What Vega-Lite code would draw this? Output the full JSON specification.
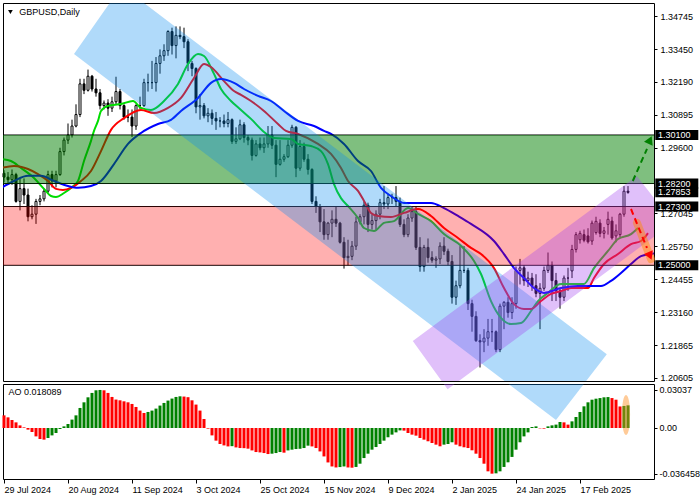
{
  "$schema": "https://vega.github.io/schema/vega-lite/v6.json",
  "background": "white",
  "padding": {"left": 2, "top": 2, "right": 0, "bottom": 0},
  "spacing": 3,
  "bounds": "flush",
  "config": {
    "view": {"stroke": "black", "strokeWidth": 1},
    "scale": {"continuousPadding": 0},
    "axis": {"labelFont": "Liberation Sans", "labelFontSize": 9, "labelColor": "black", "tickColor": "black", "domain": false, "grid": false, "labelOverlap": false},
    "text": {"font": "Liberation Sans"}
  },
  "datasets": {
    "candles": [
      {"i":0,"o":1.2860,"h":1.2872,"l":1.2825,"c":1.2845},
      {"i":1,"o":1.2845,"h":1.2865,"l":1.2820,"c":1.2835},
      {"i":2,"o":1.2835,"h":1.2875,"l":1.2815,"c":1.2855},
      {"i":3,"o":1.2855,"h":1.2862,"l":1.2745,"c":1.2750},
      {"i":4,"o":1.2750,"h":1.2840,"l":1.2715,"c":1.2800},
      {"i":5,"o":1.2800,"h":1.2840,"l":1.2740,"c":1.2775},
      {"i":6,"o":1.2775,"h":1.2800,"l":1.2672,"c":1.2690},
      {"i":7,"o":1.2690,"h":1.2735,"l":1.2680,"c":1.2700},
      {"i":8,"o":1.2700,"h":1.2760,"l":1.2662,"c":1.2750},
      {"i":9,"o":1.2750,"h":1.2775,"l":1.2735,"c":1.2760},
      {"i":10,"o":1.2760,"h":1.2800,"l":1.2750,"c":1.2790},
      {"i":11,"o":1.2790,"h":1.2870,"l":1.2780,"c":1.2855},
      {"i":12,"o":1.2855,"h":1.2870,"l":1.2805,"c":1.2830},
      {"i":13,"o":1.2830,"h":1.2870,"l":1.2805,"c":1.2855},
      {"i":14,"o":1.2855,"h":1.2960,"l":1.2850,"c":1.2945},
      {"i":15,"o":1.2945,"h":1.3000,"l":1.2930,"c":1.2990},
      {"i":16,"o":1.2990,"h":1.3055,"l":1.2975,"c":1.3010},
      {"i":17,"o":1.3010,"h":1.3070,"l":1.3000,"c":1.3045},
      {"i":18,"o":1.3045,"h":1.3130,"l":1.3040,"c":1.3090},
      {"i":19,"o":1.3090,"h":1.3230,"l":1.3080,"c":1.3210},
      {"i":20,"o":1.3210,"h":1.3230,"l":1.3170,"c":1.3185},
      {"i":21,"o":1.3185,"h":1.3266,"l":1.3180,"c":1.3240},
      {"i":22,"o":1.3240,"h":1.3245,"l":1.3180,"c":1.3190},
      {"i":23,"o":1.3190,"h":1.3230,"l":1.3160,"c":1.3175},
      {"i":24,"o":1.3175,"h":1.3190,"l":1.3110,"c":1.3125},
      {"i":25,"o":1.3125,"h":1.3145,"l":1.3110,"c":1.3135},
      {"i":26,"o":1.3135,"h":1.3150,"l":1.3085,"c":1.3115},
      {"i":27,"o":1.3115,"h":1.3160,"l":1.3100,"c":1.3140},
      {"i":28,"o":1.3140,"h":1.3238,"l":1.3130,"c":1.3180},
      {"i":29,"o":1.3180,"h":1.3190,"l":1.3110,"c":1.3125},
      {"i":30,"o":1.3125,"h":1.3130,"l":1.3070,"c":1.3080},
      {"i":31,"o":1.3080,"h":1.3110,"l":1.3060,"c":1.3080},
      {"i":32,"o":1.3080,"h":1.3110,"l":1.3002,"c":1.3045},
      {"i":33,"o":1.3045,"h":1.3130,"l":1.3030,"c":1.3125},
      {"i":34,"o":1.3125,"h":1.3160,"l":1.3110,"c":1.3125},
      {"i":35,"o":1.3125,"h":1.3230,"l":1.3120,"c":1.3215},
      {"i":36,"o":1.3215,"h":1.3250,"l":1.3180,"c":1.3215},
      {"i":37,"o":1.3215,"h":1.3300,"l":1.3190,"c":1.3215},
      {"i":38,"o":1.3215,"h":1.3315,"l":1.3180,"c":1.3290},
      {"i":39,"o":1.3290,"h":1.3345,"l":1.3250,"c":1.3320},
      {"i":40,"o":1.3320,"h":1.3365,"l":1.3300,"c":1.3340},
      {"i":41,"o":1.3340,"h":1.3420,"l":1.3320,"c":1.3415},
      {"i":42,"o":1.3415,"h":1.3430,"l":1.3325,"c":1.3360},
      {"i":43,"o":1.3360,"h":1.3435,"l":1.3310,"c":1.3400},
      {"i":44,"o":1.3400,"h":1.3435,"l":1.3385,"c":1.3395},
      {"i":45,"o":1.3395,"h":1.3430,"l":1.3350,"c":1.3375},
      {"i":46,"o":1.3375,"h":1.3385,"l":1.3260,"c":1.3290},
      {"i":47,"o":1.3290,"h":1.3300,"l":1.3240,"c":1.3270},
      {"i":48,"o":1.3270,"h":1.3275,"l":1.3095,"c":1.3120},
      {"i":49,"o":1.3120,"h":1.3170,"l":1.3070,"c":1.3125},
      {"i":50,"o":1.3125,"h":1.3135,"l":1.3075,"c":1.3085},
      {"i":51,"o":1.3085,"h":1.3115,"l":1.3060,"c":1.3095},
      {"i":52,"o":1.3095,"h":1.3110,"l":1.3050,"c":1.3075},
      {"i":53,"o":1.3075,"h":1.3100,"l":1.3030,"c":1.3065},
      {"i":54,"o":1.3065,"h":1.3080,"l":1.3040,"c":1.3065},
      {"i":55,"o":1.3065,"h":1.3090,"l":1.3040,"c":1.3055},
      {"i":56,"o":1.3055,"h":1.3100,"l":1.3040,"c":1.3070},
      {"i":57,"o":1.3070,"h":1.3075,"l":1.2975,"c":1.2985},
      {"i":58,"o":1.2985,"h":1.3040,"l":1.2975,"c":1.2995},
      {"i":59,"o":1.2995,"h":1.3070,"l":1.2990,"c":1.3050},
      {"i":60,"o":1.3050,"h":1.3060,"l":1.2980,"c":1.3000},
      {"i":61,"o":1.3000,"h":1.3010,"l":1.2970,"c":1.2990},
      {"i":62,"o":1.2990,"h":1.3000,"l":1.2910,"c":1.2930},
      {"i":63,"o":1.2930,"h":1.2990,"l":1.2925,"c":1.2975},
      {"i":64,"o":1.2975,"h":1.3000,"l":1.2950,"c":1.2960},
      {"i":65,"o":1.2960,"h":1.3000,"l":1.2940,"c":1.2975},
      {"i":66,"o":1.2975,"h":1.3045,"l":1.2960,"c":1.3010},
      {"i":67,"o":1.3010,"h":1.3045,"l":1.2955,"c":1.2970},
      {"i":68,"o":1.2970,"h":1.2990,"l":1.2845,"c":1.2895},
      {"i":69,"o":1.2895,"h":1.2990,"l":1.2890,"c":1.2915},
      {"i":70,"o":1.2915,"h":1.2935,"l":1.2905,"c":1.2925},
      {"i":71,"o":1.2925,"h":1.2990,"l":1.2920,"c":1.2970},
      {"i":72,"o":1.2970,"h":1.3050,"l":1.2960,"c":1.3040},
      {"i":73,"o":1.3040,"h":1.3045,"l":1.2845,"c":1.2880},
      {"i":74,"o":1.2880,"h":1.2990,"l":1.2870,"c":1.2965},
      {"i":75,"o":1.2965,"h":1.2980,"l":1.2905,"c":1.2915},
      {"i":76,"o":1.2915,"h":1.2935,"l":1.2855,"c":1.2875},
      {"i":77,"o":1.2875,"h":1.2880,"l":1.2740,"c":1.2750},
      {"i":78,"o":1.2750,"h":1.2770,"l":1.2705,"c":1.2730},
      {"i":79,"o":1.2730,"h":1.2740,"l":1.2630,"c":1.2670},
      {"i":80,"o":1.2670,"h":1.2720,"l":1.2600,"c":1.2620},
      {"i":81,"o":1.2620,"h":1.2670,"l":1.2600,"c":1.2665},
      {"i":82,"o":1.2665,"h":1.2715,"l":1.2610,"c":1.2680},
      {"i":83,"o":1.2680,"h":1.2730,"l":1.2650,"c":1.2665},
      {"i":84,"o":1.2665,"h":1.2670,"l":1.2585,"c":1.2590},
      {"i":85,"o":1.2590,"h":1.2610,"l":1.2487,"c":1.2530},
      {"i":86,"o":1.2530,"h":1.2600,"l":1.2500,"c":1.2535},
      {"i":87,"o":1.2535,"h":1.2595,"l":1.2520,"c":1.2575},
      {"i":88,"o":1.2575,"h":1.2690,"l":1.2560,"c":1.2670},
      {"i":89,"o":1.2670,"h":1.2700,"l":1.2660,"c":1.2690},
      {"i":90,"o":1.2690,"h":1.2750,"l":1.2660,"c":1.2735},
      {"i":91,"o":1.2735,"h":1.2745,"l":1.2630,"c":1.2660},
      {"i":92,"o":1.2660,"h":1.2700,"l":1.2640,"c":1.2675},
      {"i":93,"o":1.2675,"h":1.2715,"l":1.2640,"c":1.2700},
      {"i":94,"o":1.2700,"h":1.2760,"l":1.2680,"c":1.2745},
      {"i":95,"o":1.2745,"h":1.2810,"l":1.2720,"c":1.2740},
      {"i":96,"o":1.2740,"h":1.2780,"l":1.2720,"c":1.2765},
      {"i":97,"o":1.2765,"h":1.2780,"l":1.2740,"c":1.2765},
      {"i":98,"o":1.2765,"h":1.2810,"l":1.2730,"c":1.2750},
      {"i":99,"o":1.2750,"h":1.2765,"l":1.2650,"c":1.2660},
      {"i":100,"o":1.2660,"h":1.2680,"l":1.2610,"c":1.2620},
      {"i":101,"o":1.2620,"h":1.2700,"l":1.2610,"c":1.2685},
      {"i":102,"o":1.2685,"h":1.2730,"l":1.2670,"c":1.2710},
      {"i":103,"o":1.2710,"h":1.2730,"l":1.2560,"c":1.2570},
      {"i":104,"o":1.2570,"h":1.2610,"l":1.2475,"c":1.2495},
      {"i":105,"o":1.2495,"h":1.2580,"l":1.2475,"c":1.2570},
      {"i":106,"o":1.2570,"h":1.2605,"l":1.2510,"c":1.2530},
      {"i":107,"o":1.2530,"h":1.2555,"l":1.2510,"c":1.2520},
      {"i":108,"o":1.2520,"h":1.2535,"l":1.2490,"c":1.2525},
      {"i":109,"o":1.2525,"h":1.2590,"l":1.2505,"c":1.2575},
      {"i":110,"o":1.2575,"h":1.2610,"l":1.2540,"c":1.2555},
      {"i":111,"o":1.2555,"h":1.2565,"l":1.2500,"c":1.2515},
      {"i":112,"o":1.2515,"h":1.2540,"l":1.2350,"c":1.2375},
      {"i":113,"o":1.2375,"h":1.2440,"l":1.2345,"c":1.2420},
      {"i":114,"o":1.2420,"h":1.2575,"l":1.2410,"c":1.2480},
      {"i":115,"o":1.2480,"h":1.2575,"l":1.2470,"c":1.2480},
      {"i":116,"o":1.2480,"h":1.2490,"l":1.2325,"c":1.2350},
      {"i":117,"o":1.2350,"h":1.2365,"l":1.2240,"c":1.2300},
      {"i":118,"o":1.2300,"h":1.2320,"l":1.2200,"c":1.2205},
      {"i":119,"o":1.2205,"h":1.2230,"l":1.2100,"c":1.2200},
      {"i":120,"o":1.2200,"h":1.2250,"l":1.2160,"c":1.2215},
      {"i":121,"o":1.2215,"h":1.2290,"l":1.2185,"c":1.2240},
      {"i":122,"o":1.2240,"h":1.2290,"l":1.2200,"c":1.2240},
      {"i":123,"o":1.2240,"h":1.2245,"l":1.2160,"c":1.2170},
      {"i":124,"o":1.2170,"h":1.2350,"l":1.2160,"c":1.2340},
      {"i":125,"o":1.2340,"h":1.2360,"l":1.2250,"c":1.2355},
      {"i":126,"o":1.2355,"h":1.2375,"l":1.2295,"c":1.2315},
      {"i":127,"o":1.2315,"h":1.2375,"l":1.2290,"c":1.2350},
      {"i":128,"o":1.2350,"h":1.2495,"l":1.2330,"c":1.2480},
      {"i":129,"o":1.2480,"h":1.2525,"l":1.2425,"c":1.2490},
      {"i":130,"o":1.2490,"h":1.2500,"l":1.2420,"c":1.2440},
      {"i":131,"o":1.2440,"h":1.2475,"l":1.2415,"c":1.2450},
      {"i":132,"o":1.2450,"h":1.2470,"l":1.2400,"c":1.2420},
      {"i":133,"o":1.2420,"h":1.2465,"l":1.2375,"c":1.2390},
      {"i":134,"o":1.2390,"h":1.2430,"l":1.2250,"c":1.2410},
      {"i":135,"o":1.2410,"h":1.2495,"l":1.2400,"c":1.2480},
      {"i":136,"o":1.2480,"h":1.2550,"l":1.2470,"c":1.2500},
      {"i":137,"o":1.2500,"h":1.2515,"l":1.2360,"c":1.2440},
      {"i":138,"o":1.2440,"h":1.2470,"l":1.2360,"c":1.2400},
      {"i":139,"o":1.2400,"h":1.2410,"l":1.2330,"c":1.2375},
      {"i":140,"o":1.2375,"h":1.2460,"l":1.2360,"c":1.2450},
      {"i":141,"o":1.2450,"h":1.2490,"l":1.2400,"c":1.2450},
      {"i":142,"o":1.2478,"h":1.2580,"l":1.2450,"c":1.2562},
      {"i":143,"o":1.2562,"h":1.2630,"l":1.2550,"c":1.2620},
      {"i":144,"o":1.2600,"h":1.2635,"l":1.2585,"c":1.2625},
      {"i":145,"o":1.2620,"h":1.2640,"l":1.2590,"c":1.2598},
      {"i":146,"o":1.2615,"h":1.2645,"l":1.2585,"c":1.2592},
      {"i":147,"o":1.2595,"h":1.2675,"l":1.2580,"c":1.2665},
      {"i":148,"o":1.2628,"h":1.2690,"l":1.2620,"c":1.2672},
      {"i":149,"o":1.2665,"h":1.2680,"l":1.2610,"c":1.2625},
      {"i":150,"o":1.2625,"h":1.2650,"l":1.2605,"c":1.2635},
      {"i":151,"o":1.2660,"h":1.2710,"l":1.2620,"c":1.2680},
      {"i":152,"o":1.2673,"h":1.2690,"l":1.2600,"c":1.2607},
      {"i":153,"o":1.2615,"h":1.2660,"l":1.2590,"c":1.2635},
      {"i":154,"o":1.2620,"h":1.2705,"l":1.2610,"c":1.2700},
      {"i":155,"o":1.2700,"h":1.2810,"l":1.2690,"c":1.2790},
      {"i":156,"o":1.2790,"h":1.2810,"l":1.2780,"c":1.27853}
    ],
    "ma": [
      {"s":"lips","i":-0.75,"p":1.2916},{"s":"lips","i":1.75,"p":1.2908},{"s":"lips","i":4.25,"p":1.2881},{"s":"lips","i":7.5,"p":1.2842},{"s":"lips","i":10,"p":1.2799},{"s":"lips","i":11.75,"p":1.2771},{"s":"lips","i":13,"p":1.2767},{"s":"lips","i":15,"p":1.2783},{"s":"lips","i":16.75,"p":1.2803},{"s":"lips","i":18.5,"p":1.2830},{"s":"lips","i":20,"p":1.2908},{"s":"lips","i":21.75,"p":1.2987},{"s":"lips","i":22.5,"p":1.3026},{"s":"lips","i":23.5,"p":1.3065},{"s":"lips","i":24.25,"p":1.3104},{"s":"lips","i":26,"p":1.3124},{"s":"lips","i":29.25,"p":1.3131},{"s":"lips","i":32.25,"p":1.3143},{"s":"lips","i":34.25,"p":1.3116},{"s":"lips","i":36.75,"p":1.3108},{"s":"lips","i":40,"p":1.3143},{"s":"lips","i":43.5,"p":1.3210},{"s":"lips","i":46,"p":1.3288},{"s":"lips","i":48.5,"p":1.3327},{"s":"lips","i":50,"p":1.3319},{"s":"lips","i":52.5,"p":1.3249},{"s":"lips","i":54.25,"p":1.3190},{"s":"lips","i":56.75,"p":1.3143},{"s":"lips","i":59.25,"p":1.3108},{"s":"lips","i":61.75,"p":1.3073},{"s":"lips","i":65,"p":1.3022},{"s":"lips","i":67.5,"p":1.2998},{"s":"lips","i":71.75,"p":1.2994},{"s":"lips","i":73.5,"p":1.2975},{"s":"lips","i":76.75,"p":1.2967},{"s":"lips","i":79.25,"p":1.2947},{"s":"lips","i":81,"p":1.2896},{"s":"lips","i":82.5,"p":1.2818},{"s":"lips","i":84.25,"p":1.2763},{"s":"lips","i":86,"p":1.2732},{"s":"lips","i":88.5,"p":1.2685},{"s":"lips","i":90,"p":1.2646},{"s":"lips","i":92.5,"p":1.2634},{"s":"lips","i":95,"p":1.2666},{"s":"lips","i":97.5,"p":1.2673},{"s":"lips","i":101,"p":1.2724},{"s":"lips","i":103.5,"p":1.2701},{"s":"lips","i":106.75,"p":1.2673},{"s":"lips","i":110,"p":1.2622},{"s":"lips","i":114.25,"p":1.2576},{"s":"lips","i":117.5,"p":1.2517},{"s":"lips","i":119.25,"p":1.2466},{"s":"lips","i":121.75,"p":1.2360},{"s":"lips","i":124.25,"p":1.2294},{"s":"lips","i":126.75,"p":1.2270},{"s":"lips","i":129.25,"p":1.2274},{"s":"lips","i":131.75,"p":1.2321},{"s":"lips","i":133.5,"p":1.2360},{"s":"lips","i":136,"p":1.2392},{"s":"lips","i":139.25,"p":1.2427},{"s":"lips","i":141.75,"p":1.2427},{"s":"lips","i":145,"p":1.2427},{"s":"lips","i":147.5,"p":1.2489},{"s":"lips","i":151,"p":1.2556},{"s":"lips","i":153.5,"p":1.2603},{"s":"lips","i":156.75,"p":1.2622},{"s":"lips","i":158.5,"p":1.2646},
      {"s":"teeth","i":-0.75,"p":1.2881},{"s":"teeth","i":2.5,"p":1.2889},{"s":"teeth","i":6,"p":1.2877},{"s":"teeth","i":8.5,"p":1.2857},{"s":"teeth","i":11,"p":1.2830},{"s":"teeth","i":13,"p":1.2799},{"s":"teeth","i":14.75,"p":1.2795},{"s":"teeth","i":16.75,"p":1.2803},{"s":"teeth","i":19.25,"p":1.2830},{"s":"teeth","i":21.75,"p":1.2869},{"s":"teeth","i":24.25,"p":1.2947},{"s":"teeth","i":26.75,"p":1.3030},{"s":"teeth","i":30,"p":1.3076},{"s":"teeth","i":34.25,"p":1.3108},{"s":"teeth","i":37.5,"p":1.3096},{"s":"teeth","i":41,"p":1.3116},{"s":"teeth","i":44.25,"p":1.3155},{"s":"teeth","i":47.5,"p":1.3233},{"s":"teeth","i":50,"p":1.3288},{"s":"teeth","i":51.75,"p":1.3276},{"s":"teeth","i":55,"p":1.3221},{"s":"teeth","i":57.5,"p":1.3182},{"s":"teeth","i":59.25,"p":1.3167},{"s":"teeth","i":61.75,"p":1.3143},{"s":"teeth","i":65,"p":1.3104},{"s":"teeth","i":68.5,"p":1.3053},{"s":"teeth","i":70.5,"p":1.3026},{"s":"teeth","i":73.5,"p":1.3014},{"s":"teeth","i":78.5,"p":1.2975},{"s":"teeth","i":81.75,"p":1.2936},{"s":"teeth","i":84.25,"p":1.2881},{"s":"teeth","i":86,"p":1.2830},{"s":"teeth","i":88.5,"p":1.2791},{"s":"teeth","i":90,"p":1.2752},{"s":"teeth","i":91.75,"p":1.2705},{"s":"teeth","i":93.5,"p":1.2693},{"s":"teeth","i":96.75,"p":1.2689},{"s":"teeth","i":100,"p":1.2705},{"s":"teeth","i":103.5,"p":1.2720},{"s":"teeth","i":106.75,"p":1.2693},{"s":"teeth","i":110,"p":1.2646},{"s":"teeth","i":113.5,"p":1.2607},{"s":"teeth","i":116.75,"p":1.2568},{"s":"teeth","i":119.25,"p":1.2544},{"s":"teeth","i":122.5,"p":1.2489},{"s":"teeth","i":125,"p":1.2411},{"s":"teeth","i":127.5,"p":1.2348},{"s":"teeth","i":130,"p":1.2329},{"s":"teeth","i":131.75,"p":1.2329},{"s":"teeth","i":134.25,"p":1.2360},{"s":"teeth","i":136.75,"p":1.2388},{"s":"teeth","i":139.25,"p":1.2399},{"s":"teeth","i":141.75,"p":1.2411},{"s":"teeth","i":146,"p":1.2411},{"s":"teeth","i":147.5,"p":1.2450},{"s":"teeth","i":150,"p":1.2505},{"s":"teeth","i":153.5,"p":1.2544},{"s":"teeth","i":156.75,"p":1.2583},{"s":"teeth","i":159.25,"p":1.2595},{"s":"teeth","i":161,"p":1.2626},
      {"s":"jaw","i":-0.75,"p":1.2803},{"s":"jaw","i":2.5,"p":1.2830},{"s":"jaw","i":6,"p":1.2850},{"s":"jaw","i":9.25,"p":1.2850},{"s":"jaw","i":12.5,"p":1.2830},{"s":"jaw","i":16,"p":1.2810},{"s":"jaw","i":18.5,"p":1.2803},{"s":"jaw","i":21.75,"p":1.2810},{"s":"jaw","i":24.25,"p":1.2830},{"s":"jaw","i":27.5,"p":1.2896},{"s":"jaw","i":31,"p":1.2975},{"s":"jaw","i":34.25,"p":1.3018},{"s":"jaw","i":38.5,"p":1.3053},{"s":"jaw","i":41.75,"p":1.3069},{"s":"jaw","i":44.25,"p":1.3104},{"s":"jaw","i":48.5,"p":1.3155},{"s":"jaw","i":51.75,"p":1.3214},{"s":"jaw","i":54.25,"p":1.3229},{"s":"jaw","i":57.5,"p":1.3214},{"s":"jaw","i":60,"p":1.3190},{"s":"jaw","i":63.5,"p":1.3163},{"s":"jaw","i":66.75,"p":1.3143},{"s":"jaw","i":70,"p":1.3104},{"s":"jaw","i":73.5,"p":1.3065},{"s":"jaw","i":77.5,"p":1.3045},{"s":"jaw","i":80,"p":1.3026},{"s":"jaw","i":81.75,"p":1.3014},{"s":"jaw","i":85,"p":1.2975},{"s":"jaw","i":88.5,"p":1.2908},{"s":"jaw","i":91.75,"p":1.2869},{"s":"jaw","i":94.25,"p":1.2803},{"s":"jaw","i":96.75,"p":1.2771},{"s":"jaw","i":100,"p":1.2744},{"s":"jaw","i":103.5,"p":1.2744},{"s":"jaw","i":106.75,"p":1.2744},{"s":"jaw","i":110,"p":1.2724},{"s":"jaw","i":113.5,"p":1.2693},{"s":"jaw","i":116.75,"p":1.2662},{"s":"jaw","i":122.5,"p":1.2595},{"s":"jaw","i":125,"p":1.2544},{"s":"jaw","i":127.5,"p":1.2489},{"s":"jaw","i":130,"p":1.2450},{"s":"jaw","i":132.5,"p":1.2411},{"s":"jaw","i":135,"p":1.2392},{"s":"jaw","i":139.25,"p":1.2411},{"s":"jaw","i":143.5,"p":1.2419},{"s":"jaw","i":149.25,"p":1.2419},{"s":"jaw","i":151.75,"p":1.2439},{"s":"jaw","i":154.25,"p":1.2470},{"s":"jaw","i":156.75,"p":1.2505},{"s":"jaw","i":159.25,"p":1.2536},{"s":"jaw","i":161.75,"p":1.2544},{"s":"jaw","i":163.25,"p":1.2548}
    ],
    "ao": [
      {"i":0,"v":0.0101,"d":"r"},{"i":1,"v":0.0085,"d":"r"},{"i":2,"v":0.0064,"d":"r"},{"i":3,"v":0.0045,"d":"r"},{"i":4,"v":0.0021,"d":"r"},{"i":5,"v":0.0005,"d":"r"},{"i":6,"v":-0.0013,"d":"r"},{"i":7,"v":-0.0032,"d":"r"},{"i":8,"v":-0.0067,"d":"r"},{"i":9,"v":-0.0088,"d":"r"},
      {"i":10,"v":-0.0093,"d":"r"},{"i":11,"v":-0.0080,"d":"g"},{"i":12,"v":-0.0059,"d":"g"},{"i":13,"v":-0.0040,"d":"g"},{"i":14,"v":-0.0008,"d":"g"},{"i":15,"v":0.0013,"d":"g"},{"i":16,"v":0.0032,"d":"g"},{"i":17,"v":0.0067,"d":"g"},{"i":18,"v":0.0101,"d":"g"},{"i":19,"v":0.0160,"d":"g"},
      {"i":20,"v":0.0205,"d":"g"},{"i":21,"v":0.0245,"d":"g"},{"i":22,"v":0.0280,"d":"g"},{"i":23,"v":0.0301,"d":"g"},{"i":24,"v":0.03037,"d":"g"},{"i":25,"v":0.0301,"d":"r"},{"i":26,"v":0.0280,"d":"r"},{"i":27,"v":0.0248,"d":"r"},{"i":28,"v":0.0227,"d":"r"},{"i":29,"v":0.0221,"d":"r"},
      {"i":30,"v":0.0213,"d":"r"},{"i":31,"v":0.0205,"d":"r"},{"i":32,"v":0.0192,"d":"r"},{"i":33,"v":0.0168,"d":"r"},{"i":34,"v":0.0139,"d":"r"},{"i":35,"v":0.0120,"d":"r"},{"i":36,"v":0.0128,"d":"g"},{"i":37,"v":0.0139,"d":"g"},{"i":38,"v":0.0155,"d":"g"},{"i":39,"v":0.0179,"d":"g"},
      {"i":40,"v":0.0200,"d":"g"},{"i":41,"v":0.0219,"d":"g"},{"i":42,"v":0.0235,"d":"g"},{"i":43,"v":0.0248,"d":"g"},{"i":44,"v":0.0253,"d":"g"},{"i":45,"v":0.0251,"d":"r"},{"i":46,"v":0.0246,"d":"r"},{"i":47,"v":0.0221,"d":"r"},{"i":48,"v":0.0187,"d":"r"},{"i":49,"v":0.0139,"d":"r"},
      {"i":50,"v":0.0072,"d":"r"},{"i":51,"v":-0.0005,"d":"r"},{"i":52,"v":-0.0059,"d":"r"},{"i":53,"v":-0.0101,"d":"r"},{"i":54,"v":-0.0128,"d":"r"},{"i":55,"v":-0.0139,"d":"r"},{"i":56,"v":-0.0147,"d":"r"},{"i":57,"v":-0.0145,"d":"g"},{"i":58,"v":-0.0155,"d":"r"},{"i":59,"v":-0.0160,"d":"r"},
      {"i":60,"v":-0.0161,"d":"r"},{"i":61,"v":-0.0165,"d":"r"},{"i":62,"v":-0.0179,"d":"r"},{"i":63,"v":-0.0192,"d":"r"},{"i":64,"v":-0.0195,"d":"r"},{"i":65,"v":-0.0200,"d":"r"},{"i":66,"v":-0.0208,"d":"r"},{"i":67,"v":-0.0205,"d":"g"},{"i":68,"v":-0.0200,"d":"g"},{"i":69,"v":-0.0192,"d":"g"},
      {"i":70,"v":-0.0197,"d":"r"},{"i":71,"v":-0.0179,"d":"g"},{"i":72,"v":-0.0173,"d":"g"},{"i":73,"v":-0.0168,"d":"g"},{"i":74,"v":-0.0166,"d":"g"},{"i":75,"v":-0.0160,"d":"g"},{"i":76,"v":-0.0141,"d":"g"},{"i":77,"v":-0.0147,"d":"r"},{"i":78,"v":-0.0160,"d":"r"},{"i":79,"v":-0.0187,"d":"r"},
      {"i":80,"v":-0.0227,"d":"r"},{"i":81,"v":-0.0275,"d":"r"},{"i":82,"v":-0.0307,"d":"r"},{"i":83,"v":-0.0315,"d":"r"},{"i":84,"v":-0.0312,"d":"g"},{"i":85,"v":-0.0307,"d":"g"},{"i":86,"v":-0.0315,"d":"r"},{"i":87,"v":-0.0317,"d":"r"},{"i":88,"v":-0.0311,"d":"g"},{"i":89,"v":-0.0285,"d":"g"},
      {"i":90,"v":-0.0240,"d":"g"},{"i":91,"v":-0.0205,"d":"g"},{"i":92,"v":-0.0173,"d":"g"},{"i":93,"v":-0.0152,"d":"g"},{"i":94,"v":-0.0128,"d":"g"},{"i":95,"v":-0.0101,"d":"g"},{"i":96,"v":-0.0074,"d":"g"},{"i":97,"v":-0.0053,"d":"g"},{"i":98,"v":-0.0035,"d":"g"},{"i":99,"v":-0.0019,"d":"g"},
      {"i":100,"v":-0.0021,"d":"r"},{"i":101,"v":-0.0040,"d":"r"},{"i":102,"v":-0.0053,"d":"r"},{"i":103,"v":-0.0061,"d":"r"},{"i":104,"v":-0.0080,"d":"r"},{"i":105,"v":-0.0093,"d":"r"},{"i":106,"v":-0.0106,"d":"r"},{"i":107,"v":-0.0120,"d":"r"},{"i":108,"v":-0.0133,"d":"r"},{"i":109,"v":-0.0146,"d":"r"},
      {"i":110,"v":-0.0133,"d":"g"},{"i":111,"v":-0.0128,"d":"g"},{"i":112,"v":-0.0114,"d":"g"},{"i":113,"v":-0.0133,"d":"r"},{"i":114,"v":-0.0146,"d":"r"},{"i":115,"v":-0.0154,"d":"r"},{"i":116,"v":-0.0160,"d":"r"},{"i":117,"v":-0.0178,"d":"r"},{"i":118,"v":-0.0205,"d":"r"},{"i":119,"v":-0.0240,"d":"r"},
      {"i":120,"v":-0.0285,"d":"r"},{"i":121,"v":-0.0346,"d":"r"},{"i":122,"v":-0.036458,"d":"r"},{"i":123,"v":-0.0362,"d":"g"},{"i":124,"v":-0.0346,"d":"g"},{"i":125,"v":-0.0311,"d":"g"},{"i":126,"v":-0.0274,"d":"g"},{"i":127,"v":-0.0231,"d":"g"},{"i":128,"v":-0.0173,"d":"g"},{"i":129,"v":-0.0114,"d":"g"},
      {"i":130,"v":-0.0067,"d":"g"},{"i":131,"v":-0.0035,"d":"g"},{"i":132,"v":0.0008,"d":"g"},{"i":133,"v":0.0013,"d":"g"},{"i":134,"v":-0.0003,"d":"r"},{"i":135,"v":-0.0005,"d":"r"},{"i":136,"v":0.0013,"d":"g"},{"i":137,"v":0.0021,"d":"g"},{"i":138,"v":0.0027,"d":"g"},{"i":139,"v":0.0048,"d":"g"},
      {"i":140,"v":0.0045,"d":"r"},{"i":141,"v":0.0027,"d":"r"},{"i":142,"v":0.0053,"d":"g"},{"i":143,"v":0.0088,"d":"g"},{"i":144,"v":0.0128,"d":"g"},{"i":145,"v":0.0173,"d":"g"},{"i":146,"v":0.0205,"d":"g"},{"i":147,"v":0.0226,"d":"g"},{"i":148,"v":0.0234,"d":"g"},{"i":149,"v":0.0239,"d":"g"},
      {"i":150,"v":0.0245,"d":"g"},{"i":151,"v":0.0247,"d":"g"},{"i":152,"v":0.0239,"d":"r"},{"i":153,"v":0.0226,"d":"r"},{"i":154,"v":0.0172,"d":"r"},{"i":155,"v":0.0176,"d":"g"},{"i":156,"v":0.018089,"d":"g"}
    ],
    "blueCh": [
      {"x":17.5,"lo":1.3327,"hi":1.3327},{"x":29.4,"lo":1.31855,"hi":1.35931},{"x":138,"lo":1.18944,"hi":1.23025},{"x":150.7,"lo":1.21516,"hi":1.21516}
    ],
    "purpleCh": [
      {"x":102.2,"lo":1.22037,"hi":1.22037},{"x":110.9,"lo":1.20146,"hi":1.2304},{"x":158.2,"lo":1.25615,"hi":1.28495},{"x":167.3,"lo":1.26667,"hi":1.26667}
    ],
    "blueChAO": [
      {"x":17.5,"lo":0.2986,"hi":0.2986},{"x":29.4,"lo":0.26974,"hi":0.35289},{"x":138,"lo":0.00639,"hi":0.08962},{"x":150.7,"lo":0.05884,"hi":0.05884}
    ],
    "purpleChAO": [
      {"x":102.2,"lo":0.06946,"hi":0.06946},{"x":110.9,"lo":0.0309,"hi":0.08993},{"x":158.2,"lo":0.14245,"hi":0.2012},{"x":167.3,"lo":0.16391,"hi":0.16391}
    ],
    "levels": [{"p":1.301},{"p":1.282},{"p":1.273},{"p":1.25}],
    "boxes": [
      {"p":1.301,"t":"1.30100"},{"p":1.282,"t":"1.28200"},{"p":1.27853,"t":"1.27853"},{"p":1.273,"t":"1.27300"},{"p":1.25,"t":"1.25000"}
    ]
  },
  "vconcat": [
    {
      "width": 651,
      "height": 378,
      "layer": [
        {
          "data": {"name": "candles"},
          "mark": {"type": "rule", "color": "black", "strokeWidth": 1},
          "encoding": {
            "x": {"field": "i", "type": "quantitative", "scale": {"domain": [-0.25, 162.5], "nice": false, "zero": false, "padding": 0}, "axis": null},
            "y": {"field": "l", "type": "quantitative", "scale": {"domain": [1.20471, 1.35266], "nice": false, "zero": false, "padding": 0},
                  "axis": {"orient": "right", "title": null, "values": [1.34745, 1.3345, 1.3219, 1.30895, 1.296, 1.27045, 1.2575, 1.24455, 1.2316, 1.21865, 1.20605], "tickCount": 30, "format": ".5f", "tickSize": 3, "labelPadding": 3, "labelOverlap": false}},
            "y2": {"field": "h"}
          }
        },
        {
          "data": {"name": "candles"},
          "mark": {"type": "bar", "size": 2, "stroke": "black", "strokeWidth": 1},
          "encoding": {
            "x": {"field": "i", "type": "quantitative"},
            "y": {"field": "o", "type": "quantitative"},
            "y2": {"field": "c"},
            "fill": {"condition": {"test": "datum.c < datum.o", "value": "black"}, "value": "white"}
          }
        },
        {
          "data": {"name": "ma"},
          "mark": {"type": "line", "strokeWidth": 2, "interpolate": "monotone", "clip": true},
          "encoding": {
            "x": {"field": "i", "type": "quantitative"},
            "y": {"field": "p", "type": "quantitative"},
            "color": {"field": "s", "type": "nominal", "scale": {"domain": ["lips", "teeth", "jaw"], "range": ["#00DD00", "#FF0000", "#0000FF"]}, "legend": null}
          }
        },
        {
          "data": {"name": "levels"},
          "mark": {"type": "rule", "color": "black", "strokeWidth": 1},
          "encoding": {"y": {"field": "p", "type": "quantitative"}}
        },
        {
          "data": {"values": [{"a": 1.282, "b": 1.301}]},
          "mark": {"type": "rect", "fill": "#008000", "opacity": 0.5},
          "encoding": {"x": {"datum": -0.25}, "x2": {"datum": 162.5}, "y": {"field": "a", "type": "quantitative"}, "y2": {"field": "b"}}
        },
        {
          "data": {"values": [{"a": 1.25, "b": 1.273}]},
          "mark": {"type": "rect", "fill": "#FF0000", "opacity": 0.31},
          "encoding": {"x": {"datum": -0.25}, "x2": {"datum": 162.5}, "y": {"field": "a", "type": "quantitative"}, "y2": {"field": "b"}}
        },
        {
          "data": {"name": "blueCh"},
          "mark": {"type": "area", "fill": "#0A8CF0", "opacity": 0.32, "clip": true},
          "encoding": {"x": {"field": "x", "type": "quantitative"}, "y": {"field": "lo", "type": "quantitative"}, "y2": {"field": "hi"}}
        },
        {
          "data": {"name": "purpleCh"},
          "mark": {"type": "area", "fill": "#A040F0", "opacity": 0.33, "clip": true},
          "encoding": {"x": {"field": "x", "type": "quantitative"}, "y": {"field": "lo", "type": "quantitative"}, "y2": {"field": "hi"}}
        },
        {
          "data": {"values": [{"x": 158.25, "p": 1.26655}, {"x": 161.75, "p": 1.25246}]},
          "mark": {"type": "line", "color": "#FF8C00", "strokeWidth": 8, "opacity": 0.45, "strokeCap": "round"},
          "encoding": {"x": {"field": "x", "type": "quantitative"}, "y": {"field": "p", "type": "quantitative"}}
        },
        {
          "data": {"values": [{"x": 157.2, "p": 1.28299}, {"x": 160.75, "p": 1.29559}]},
          "mark": {"type": "line", "color": "#008000", "strokeWidth": 2, "strokeDash": [6, 4]},
          "encoding": {"x": {"field": "x", "type": "quantitative"}, "y": {"field": "p", "type": "quantitative"}}
        },
        {
          "data": {"values": [{"x": 156.75, "p": 1.27203}, {"x": 160.75, "p": 1.25677}]},
          "mark": {"type": "line", "color": "#FF0000", "strokeWidth": 2, "strokeDash": [6, 4]},
          "encoding": {"x": {"field": "x", "type": "quantitative"}, "y": {"field": "p", "type": "quantitative"}}
        },
        {
          "data": {"values": [{"x": 161.5, "p": 1.29904}]},
          "mark": {"type": "point", "shape": "triangle-up", "filled": true, "color": "#008000", "size": 90, "angle": 24, "opacity": 1},
          "encoding": {"x": {"field": "x", "type": "quantitative"}, "y": {"field": "p", "type": "quantitative"}}
        },
        {
          "data": {"values": [{"x": 161.5, "p": 1.25364}]},
          "mark": {"type": "point", "shape": "triangle-up", "filled": true, "color": "#FF0000", "size": 90, "angle": 157, "opacity": 1},
          "encoding": {"x": {"field": "x", "type": "quantitative"}, "y": {"field": "p", "type": "quantitative"}}
        },
        {
          "data": {"values": [{"x": 1.6, "p": 1.34914}]},
          "mark": {"type": "point", "shape": "triangle-down", "filled": true, "color": "black", "size": 22, "opacity": 1},
          "encoding": {"x": {"field": "x", "type": "quantitative"}, "y": {"field": "p", "type": "quantitative"}}
        },
        {
          "data": {"values": [{"x": 3.8, "p": 1.34914, "t": "GBPUSD,Daily"}]},
          "mark": {"type": "text", "align": "left", "baseline": "middle", "fontSize": 9, "color": "black"},
          "encoding": {"x": {"field": "x", "type": "quantitative"}, "y": {"field": "p", "type": "quantitative"}, "text": {"field": "t"}}
        },
        {
          "data": {"name": "boxes"},
          "mark": {"type": "point", "shape": "M-1,-0.23H1V0.23H-1Z", "size": 1849, "filled": true, "color": "black", "opacity": 1, "clip": false},
          "encoding": {"x": {"datum": 168.2}, "y": {"field": "p", "type": "quantitative"}}
        },
        {
          "data": {"name": "boxes"},
          "mark": {"type": "text", "align": "left", "baseline": "middle", "fontSize": 9, "color": "white", "clip": false},
          "encoding": {"x": {"datum": 163.5}, "y": {"field": "p", "type": "quantitative"}, "text": {"field": "t"}}
        }
      ]
    },
    {
      "width": 651,
      "height": 95,
      "layer": [
        {
          "data": {"name": "blueChAO"},
          "mark": {"type": "area", "fill": "#0A8CF0", "opacity": 0.32, "clip": true},
          "encoding": {
            "x": {"field": "x", "type": "quantitative", "scale": {"domain": [-0.25, 162.5], "nice": false, "zero": false, "padding": 0},
                  "axis": {"orient": "bottom", "title": null, "values": [0, 16, 32, 48, 64, 80, 96, 112, 128, 144], "tickCount": 30,
                           "labelExpr": "['29 Jul 2024','20 Aug 2024','11 Sep 2024','3 Oct 2024','25 Oct 2024','15 Nov 2024','9 Dec 2024','2 Jan 2025','24 Jan 2025','17 Feb 2025'][round(datum.value/16)]",
                           "labelAlign": "left", "labelFlush": false, "labelOverlap": false, "tickSize": 4, "labelPadding": 2}},
            "y": {"field": "lo", "type": "quantitative", "scale": {"domain": [-0.04072, 0.03513], "nice": false, "zero": false, "padding": 0},
                  "axis": {"orient": "right", "title": null, "values": [0.03037, 0, -0.036458], "tickCount": 10, "labelOverlap": false,
                           "labelExpr": "datum.value == 0 ? '0.00' : (datum.value > 0 ? '0.03037' : '-0.036458')", "tickSize": 3, "labelPadding": 2}},
            "y2": {"field": "hi"}
          }
        },
        {
          "data": {"name": "purpleChAO"},
          "mark": {"type": "area", "fill": "#A040F0", "opacity": 0.33, "clip": true},
          "encoding": {"x": {"field": "x", "type": "quantitative"}, "y": {"field": "lo", "type": "quantitative"}, "y2": {"field": "hi"}}
        },
        {
          "data": {"name": "ao"},
          "mark": {"type": "bar", "size": 3},
          "encoding": {
            "x": {"field": "i", "type": "quantitative"},
            "y": {"field": "v", "type": "quantitative"},
            "y2": {"datum": 0},
            "fill": {"condition": {"test": "datum.d == 'g'", "value": "#008000"}, "value": "#FF0000"}
          }
        },
        {
          "data": {"values": [{"x": 155.5, "v": 0.0104}]},
          "mark": {"type": "point", "shape": "M0,-1C0.27,-1 0.27,1 0,1C-0.27,1 -0.27,-1 0,-1Z", "size": 1600, "filled": true, "color": "#FF8C1A", "opacity": 0.45},
          "encoding": {"x": {"field": "x", "type": "quantitative"}, "y": {"field": "v", "type": "quantitative"}}
        },
        {
          "data": {"values": [{"x": 1.1, "v": 0.0287, "t": "AO 0.018089"}]},
          "mark": {"type": "text", "align": "left", "baseline": "middle", "fontSize": 9, "color": "black"},
          "encoding": {"x": {"field": "x", "type": "quantitative"}, "y": {"field": "v", "type": "quantitative"}, "text": {"field": "t"}}
        }
      ]
    }
  ]
}
